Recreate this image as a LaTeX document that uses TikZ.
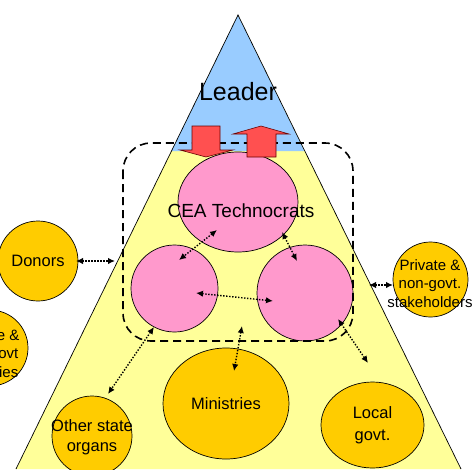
\documentclass[tikz,border=0pt]{standalone}
\usepackage{fontspec}
\setmainfont{Liberation Sans}
\usetikzlibrary{shapes.geometric,arrows.meta}
\definecolor{tblue}{HTML}{99CCFF}
\definecolor{tyellow}{HTML}{FFFF99}
\definecolor{tpink}{HTML}{FF99CC}
\definecolor{torange}{HTML}{FFCC00}
\definecolor{tred}{HTML}{FF5050}
\begin{document}
\begin{tikzpicture}[x=1pt,y=-1pt,
  blob/.style={draw=black,line width=0.7pt,ellipse,inner sep=0pt,align=center},
  pinkblob/.style={blob,fill=tpink},
  orangeblob/.style={blob,fill=torange},
  txt/.style={font=\fontsize{16.5}{20}\selectfont},
  frag/.style={anchor=east,font=\fontsize{15}{18}\selectfont,inner sep=0pt},
  redarrow/.style={fill=tred,draw=black!60!red,line width=0.6pt,line join=miter},
  dashbox/.style={line width=1.6pt,dash pattern=on 8pt off 5pt,rounded corners=28pt},
  dotarr/.style={line width=1.4pt,dash pattern=on 1.4pt off 1.6pt,
     {Latex[length=7pt,width=6.5pt]}-{Latex[length=7pt,width=6.5pt]}}
]
\useasboundingbox (0,0) rectangle (474,469);
% pyramid
\fill[tyellow] (238,15) -- (16,469) -- (461,469) -- cycle;
\fill[tblue] (238,15) -- (171.5,151) -- (304.5,151) -- cycle;
\draw[line width=0.7pt] (16,469) -- (238,15) -- (461,469);
\node[font=\fontsize{25}{30}\selectfont] (leader) at (238,92) {Leader};
% pink nodes
\node[pinkblob,minimum width=120pt,minimum height=100pt,
  label={[font=\fontsize{19}{22}\selectfont,xshift=3pt,yshift=-9pt]center:CEA Technocrats}] (cea) at (238,202) {};
\node[pinkblob,minimum width=87pt,minimum height=87pt] (lc) at (174.5,288.5) {};
\node[pinkblob,minimum width=96pt,minimum height=96pt] (rc) at (305,293) {};
% orange nodes
\node[orangeblob,txt,minimum width=80pt,minimum height=80pt] (donors) at (38,261) {Donors};
\node[orangeblob,minimum width=76pt,minimum height=76pt] (state) at (-10,348) {};
\node[frag] (s1) at (19.5,335) {e \&};
\node[frag] (s2) at (18.5,353.5) {ovt};
\node[frag] (s3) at (18.5,372) {ies};
\node[orangeblob,minimum width=75pt,minimum height=75pt] (priv) at (430.5,279.5) {};
\node[font=\fontsize{15}{18.5}\selectfont,align=center] (privtxt) at (430,283.5) {Private \&\\non-govt.\\stakeholders};
\node[orangeblob,txt,minimum width=126pt,minimum height=111pt] (min) at (226,403.5) {Ministries};
\node[orangeblob,font=\fontsize{16.5}{22}\selectfont,minimum width=103pt,minimum height=86pt] (local) at (372.5,425) {Local\\govt.};
\node[orangeblob,minimum width=80pt,minimum height=80pt] (other) at (92,436) {};
\node[txt,align=center] (othertxt) at (92,437) {Other state\\organs};
% dashed group box
\draw[dashbox] (123,143) rectangle (353,341);
% red arrows
\draw[redarrow] (192,126) -- (220,126) -- (220,150) -- (233,150) -- (206,157) -- (180,150) -- (192,150) -- cycle;
\draw[redarrow] (261,126) -- (289,134) -- (276,134) -- (276,157) -- (247,157) -- (247,134) -- (233,134) -- cycle;
% connector end points
\coordinate (c1a) at (217,230); \coordinate (c1b) at (179,260);
\coordinate (c2a) at (282,232); \coordinate (c2b) at (297,261);
\coordinate (c3a) at (196,293); \coordinate (c3b) at (273,301);
\coordinate (c4a) at (154,327); \coordinate (c4b) at (108,394);
\coordinate (c5a) at (242,326); \coordinate (c5b) at (234,371);
\coordinate (c6a) at (338,319); \coordinate (c6b) at (368,363);
\coordinate (c7a) at (76,261);  \coordinate (c7b) at (115,261);
\coordinate (c8a) at (369,285); \coordinate (c8b) at (393,285);
\draw[dotarr] (c1a) -- (c1b);
\draw[dotarr] (c2a) -- (c2b);
\draw[dotarr] (c3a) -- (c3b);
\draw[dotarr] (c4a) -- (c4b);
\draw[dotarr] (c5a) -- (c5b);
\draw[dotarr] (c6a) -- (c6b);
\draw[dotarr] (c7a) -- (c7b);
\draw[dotarr] (c8a) -- (c8b);
\end{tikzpicture}
\end{document}
